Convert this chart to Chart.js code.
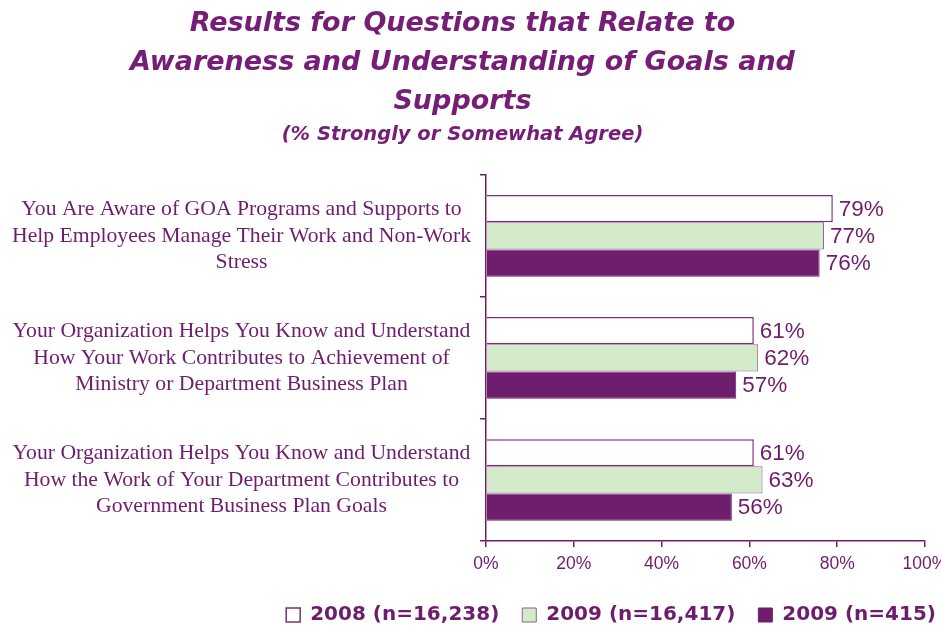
<!DOCTYPE html>
<html lang="en">
<head>
<meta charset="UTF-8">
<title>Awareness and Understanding of Goals and Supports</title>
<script src="https://cdn.jsdelivr.net/npm/chart.js"></script>
<style>
  html, body { margin: 0; padding: 0; background: #fff; overflow: hidden; }
  #wrap { width: 941px; height: 629px; }
</style>
</head>
<body>
<div id="wrap"><canvas id="chart"></canvas></div>
<script>
// questions, each split into the lines it is printed on
const questions = [
    ["You Are Aware of GOA Programs and Supports to", "Help Employees Manage Their Work and Non-Work", "Stress"],
    ["Your Organization Helps You Know and Understand", "How Your Work Contributes to Achievement of", "Ministry or Department Business Plan"],
    ["Your Organization Helps You Know and Understand", "How the Work of Your Department Contributes to", "Government Business Plan Goals"]
];
const seriesNames = ["2008 (n=16,238)", "2009 (n=16,417)", "2009 (n=415)"];
const agree2008 = [79, 61, 61];
const agree2009 = [77, 62, 63];
const agree2009small = [76, 57, 56];
const xTicks = [0, 20, 40, 60, 80, 100];

const purple = "#6e1c6d";
const headFont = "'DejaVu Sans', sans-serif";

// writes the percentage just past the end of every bar
const valueLabels = {
    id: "valueLabels",
    afterDatasetsDraw(chart) {
        const ctx = chart.ctx;
        ctx.save();
        ctx.font = "22.5px 'Liberation Sans', Arial, sans-serif";
        ctx.fillStyle = purple;
        ctx.textAlign = "left";
        ctx.textBaseline = "middle";
        chart.data.datasets.forEach((ds, i) => {
            chart.getDatasetMeta(i).data.forEach((bar, j) => {
                ctx.fillText(ds.data[j] + "%", bar.x + 6, bar.y + 1);
            });
        });
        ctx.restore();
    }
};

// push the legend row further toward the right edge
const legendNudge = {
    id: "legendNudge",
    afterLayout(chart) {
        chart.legend.left += 34;
        chart.legend.right += 34;
    }
};

new Chart(document.getElementById("chart"), {
    type: "bar",
    data: {
        labels: questions,
        datasets: [
            { label: seriesNames[0], data: agree2008, backgroundColor: "#ffffff", borderColor: "#7b2f7a", borderWidth: 1.5 },
            { label: seriesNames[1], data: agree2009, backgroundColor: "#d3ebca", borderColor: "#8b638b", borderWidth: 1 },
            { label: seriesNames[2], data: agree2009small, backgroundColor: "#6f1e6e", borderColor: "#6f1e6e", borderWidth: 1 }
        ]
    },
    options: {
        indexAxis: "y",
        responsive: true,
        maintainAspectRatio: false,
        animation: false,
        layout: { padding: { left: 0, right: 16, top: 0, bottom: -6 } },
        datasets: { bar: { categoryPercentage: 0.67, barPercentage: 1 } },
        scales: {
            x: {
                min: 0,
                max: 100,
                afterBuildTicks: (scale) => { scale.ticks = xTicks.map(v => ({ value: v })); },
                // let the last label run off the edge instead of shrinking the plot
                afterFit: (scale) => { scale.paddingRight = 0; },
                ticks: {
                    callback: (v) => v + "%",
                    color: purple,
                    font: { family: "'Liberation Sans', Arial, sans-serif", size: 17.5 },
                    padding: 7
                },
                grid: { drawOnChartArea: false, color: purple, tickLength: 6, lineWidth: 1.5 },
                border: { color: purple, width: 1.5 }
            },
            y: {
                // the question column is wider than half the canvas
                afterFit: (scale) => { scale.width = 486; },
                ticks: {
                    crossAlign: "center",
                    color: purple,
                    font: { family: "'Liberation Serif', serif", size: 21.7, lineHeight: 1.22 },
                    padding: 9,
                    autoSkip: false
                },
                grid: { drawOnChartArea: false, color: purple, tickLength: 6, lineWidth: 1.5, offset: true },
                border: { color: purple, width: 1.5 }
            }
        },
        plugins: {
            title: {
                display: true,
                text: ["Results for Questions that Relate to", "Awareness and Understanding of Goals and", "Supports"],
                color: "#761e77",
                font: { family: headFont, size: 27, weight: "bold", style: "oblique", lineHeight: 1.44 },
                padding: { top: 5, bottom: 0 }
            },
            subtitle: {
                display: true,
                text: "(% Strongly or Somewhat Agree)",
                color: "#761e77",
                font: { family: headFont, size: 19.5, weight: "bold", style: "oblique", lineHeight: 1.3 },
                padding: { top: 1, bottom: 27 }
            },
            legend: {
                position: "bottom",
                align: "end",
                labels: {
                    color: purple,
                    boxWidth: 14,
                    boxHeight: 14,
                    padding: 23,
                    font: { family: headFont, size: 20, weight: "bold" }
                }
            },
            tooltip: { enabled: false }
        }
    },
    plugins: [valueLabels, legendNudge]
});
</script>
</body>
</html>
